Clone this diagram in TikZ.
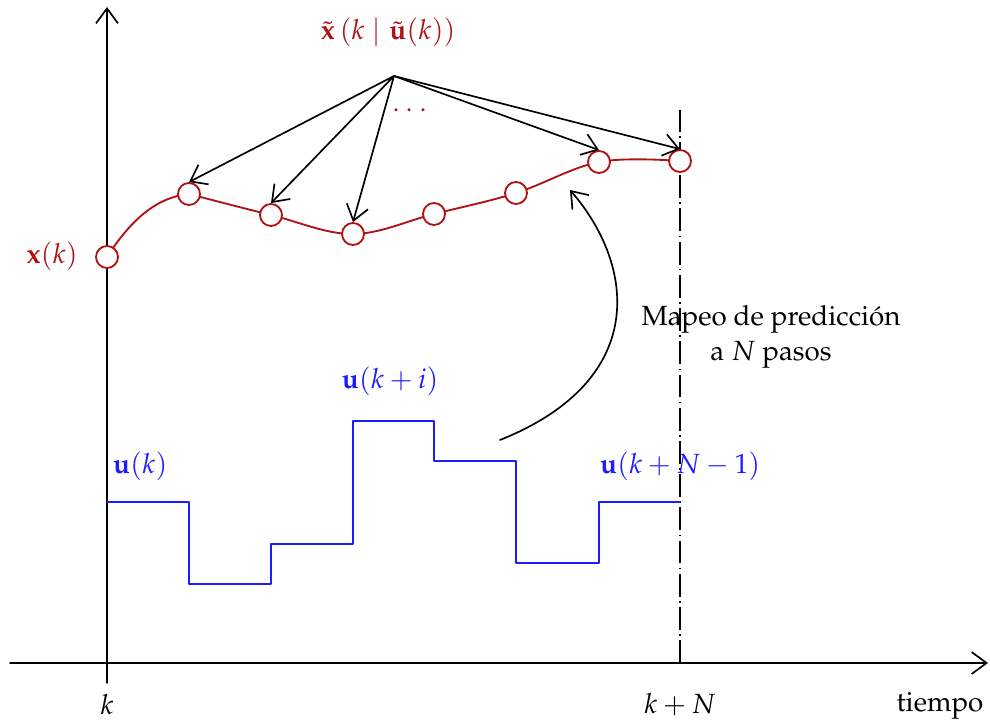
\documentclass[tikz,border=0pt]{standalone}
\usepackage[T1]{fontenc}
\usepackage{mathpazo}
\usetikzlibrary{arrows.meta,backgrounds}
\definecolor{trajred}{RGB}{176,18,18}
\definecolor{ctrlblue}{RGB}{28,28,255}
\begin{document}
\begin{tikzpicture}[x=0.02cm,y=-0.02cm,line cap=round,line join=round,
    font=\fontsize{15.8}{20}\selectfont,
    >={Straight Barb[length=8.5pt,width=12.5pt]},
    axis/.style={line width=0.95pt},
    pt/.style={circle,draw=trajred,fill=white,line width=1.05pt,minimum size=0.44cm,inner sep=0pt},
    traj/.style={draw=trajred,line width=1.05pt},
    ctrl/.style={draw=ctrlblue,line width=1pt},
    fan/.style={->,line width=0.95pt}]
  \useasboundingbox (0,0) rectangle (990,722);
  \coordinate (xstart) at (10,663);
  \coordinate (xend) at (988,663);
  \coordinate (ybot) at (107,683);
  \coordinate (ytop) at (107,7);
  \coordinate (hbot) at (680,663);
  \coordinate (htop) at (680,110);
  \draw[axis,->] (xstart) -- (xend);
  \draw[axis,->] (ybot) -- (ytop);
  \draw[line width=0.95pt,line cap=butt,dash pattern=on 13pt off 2.5pt on 0.9pt off 2.5pt] (hbot) -- (htop);
  \node (klab) at (107,705) {\(k\)};
  \node (kNlab) at (680,705) {\(k+N\)};
  \node (tlab) at (940,706) {tiempo};
  % predicted trajectory
  \node[pt] (p0) at (107,257) {};
  \node[pt] (p1) at (189,194) {};
  \node[pt] (p2) at (271,215) {};
  \node[pt] (p3) at (353,234) {};
  \node[pt] (p4) at (434,214) {};
  \node[pt] (p5) at (516,193) {};
  \node[pt] (p6) at (599,162) {};
  \node[pt] (p7) at (680,161) {};
  \begin{pgfonlayer}{background}
    \draw[traj] (p0.center) .. controls (132,218) and (158,197) .. (p1.center);
    \draw[traj] plot[smooth,tension=0.6] coordinates {(p1) (p2) (p3) (p4) (p5) (p6) (p7)};
  \end{pgfonlayer}
  \node[text=trajred] (xlab) at (52,256) {\(\mathbf{x}(k)\)};
  \node[text=trajred] (xtlab) at (388,32) {\(\tilde{\mathbf{x}}\,(k\mid\tilde{\mathbf{u}}(k))\)};
  \node[text=trajred] (dots) at (410,111) {\(\cdots\)};
  \coordinate (apex) at (394,76);
  \draw[fan] (apex) -- (p1.north);
  \draw[fan] (apex) -- (p2.north);
  \draw[fan] (apex) -- (p3.north);
  \draw[fan] (apex) -- (p6.north);
  \draw[fan] (apex) -- (p7.north);
  % control sequence
  \draw[ctrl] (107,502) -| (189,584) -| (271,544) -| (353,421) -| (434,461)
    -| (516,563) -| (599,502) -- (680,502);
  \node[text=ctrlblue] (ulab0) at (140,466) {\(\mathbf{u}(k)\)};
  \node[text=ctrlblue] (ulabi) at (390,381) {\(\mathbf{u}(k+i)\)};
  \node[text=ctrlblue] (ulabN) at (680,466) {\(\mathbf{u}(k+N-1)\)};
  % prediction map
  \coordinate (mapfrom) at (500,440);
  \coordinate (mapto) at (570,190);
  \draw[->,line width=0.95pt] (mapfrom) .. controls (650,380) and (635,265) .. (mapto);
  \node[align=center] (maplab) at (771,337) {Mapeo de predicci\'on\\a \(N\) pasos};
\end{tikzpicture}
\end{document}
